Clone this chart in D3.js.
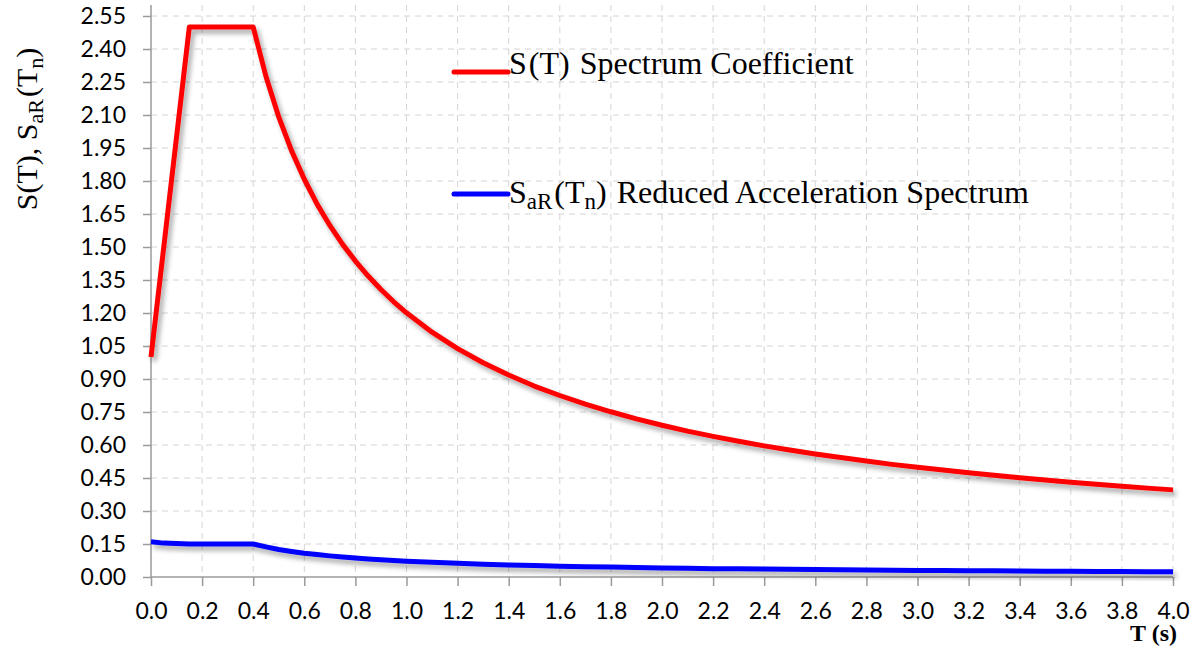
<!DOCTYPE html>
<html>
<head>
<meta charset="utf-8">
<script src="https://cdn.jsdelivr.net/npm/d3@7"></script>
<style>
  html, body { margin: 0; padding: 0; background: #fff; }
  svg { display: block; }
</style>
</head>
<body>
<svg id="chart" width="1195" height="651"></svg>
<script>
// ---- Data ----
const periodT = [0, 0.05, 0.10, 0.15, 0.20, 0.30, 0.40, 0.45, 0.50, 0.55, 0.60, 0.65, 0.70, 0.75, 0.80, 0.85, 0.90, 0.95, 1.00,
  1.1, 1.2, 1.3, 1.4, 1.5, 1.6, 1.7, 1.8, 1.9, 2.0, 2.1, 2.2, 2.3, 2.4, 2.5, 2.6, 2.7, 2.8, 2.9, 3.0,
  3.1, 3.2, 3.3, 3.4, 3.5, 3.6, 3.7, 3.8, 3.9, 4.0];
const spectrumS = [1.00, 1.50, 2.00, 2.50, 2.50, 2.50, 2.50, 2.275, 2.091, 1.938, 1.808, 1.695, 1.598, 1.512, 1.436, 1.368, 1.307, 1.251, 1.201,
  1.113, 1.038, 0.974, 0.918, 0.868, 0.825, 0.786, 0.751, 0.719, 0.690, 0.663, 0.639, 0.617, 0.596, 0.577, 0.559, 0.543, 0.527, 0.512, 0.499,
  0.486, 0.474, 0.462, 0.451, 0.441, 0.431, 0.422, 0.413, 0.404, 0.396];
const reducedSaR = [0.160, 0.154, 0.152, 0.150, 0.150, 0.150, 0.150, 0.137, 0.125, 0.116, 0.108, 0.102, 0.096, 0.091, 0.086, 0.082, 0.078, 0.075, 0.072,
  0.067, 0.062, 0.058, 0.055, 0.052, 0.049, 0.047, 0.045, 0.043, 0.041, 0.040, 0.038, 0.037, 0.036, 0.035, 0.034, 0.033, 0.032, 0.031, 0.030,
  0.029, 0.028, 0.028, 0.027, 0.026, 0.026, 0.025, 0.025, 0.024, 0.024];
const xTicks = [0.0, 0.2, 0.4, 0.6, 0.8, 1.0, 1.2, 1.4, 1.6, 1.8, 2.0, 2.2, 2.4, 2.6, 2.8, 3.0, 3.2, 3.4, 3.6, 3.8, 4.0];
const yTicks = [0.00, 0.15, 0.30, 0.45, 0.60, 0.75, 0.90, 1.05, 1.20, 1.35, 1.50, 1.65, 1.80, 1.95, 2.10, 2.25, 2.40, 2.55];
const seriesNames = ["S(T) Spectrum Coefficient", "Reduced Acceleration Spectrum"];
const seriesColors = ["#ff0000", "#0000ff"];

// ---- Layout ----
const svg = d3.select("#chart");
const x = d3.scaleLinear().domain([0, 4]).range([151, 1173]);
const y = d3.scaleLinear().domain([0, 2.55]).range([577, 16]);
const plotTop = 5;
const tickFont = "Lato, 'Open Sans', sans-serif";
const serif = "'Liberation Serif', 'Times New Roman', serif";

// shadow filter
const defs = svg.append("defs");
const f = defs.append("filter").attr("id", "shadow").attr("x", "-10%").attr("y", "-10%").attr("width", "130%").attr("height", "140%");
f.append("feDropShadow").attr("dx", 3).attr("dy", 4).attr("stdDeviation", 2.5)
  .attr("flood-color", "#000").attr("flood-opacity", 0.35);

// grid
const grid = svg.append("g");
grid.selectAll("line.h").data(yTicks.slice(1)).join("line")
  .attr("x1", x(0)).attr("x2", x(4))
  .attr("y1", d => y(d)).attr("y2", d => y(d))
  .attr("stroke", "#d4d4d4").attr("stroke-width", 1).attr("stroke-dasharray", "6,5");
grid.selectAll("line.v").data(xTicks.slice(1)).join("line")
  .attr("x1", d => x(d)).attr("x2", d => x(d))
  .attr("y1", plotTop).attr("y2", y(0))
  .attr("stroke", "#d4d4d4").attr("stroke-width", 1).attr("stroke-dasharray", "6,5");

// axes
const yAxis = d3.axisLeft(y).tickValues(yTicks).tickFormat(d3.format(".2f")).tickSize(8).tickPadding(17);
const gy = svg.append("g").attr("transform", `translate(${x(0)},0)`).call(yAxis);
gy.select(".domain").remove();
gy.append("line").attr("x1", 0).attr("x2", 0).attr("y1", plotTop).attr("y2", y(0))
  .attr("stroke", "#9a9a9a").attr("stroke-width", 1.5);
gy.selectAll(".tick line").attr("stroke", "#9a9a9a").attr("stroke-width", 1.5);
gy.selectAll(".tick text").attr("font-family", tickFont).attr("font-size", 23).attr("fill", "#000");

const xAxis = d3.axisBottom(x).tickValues(xTicks).tickFormat(d3.format(".1f")).tickSize(9).tickPadding(17);
const gx = svg.append("g").attr("transform", `translate(0,${y(0)})`).call(xAxis);
gx.select(".domain").remove();
gx.append("line").attr("x1", x(0)).attr("x2", x(4)).attr("y1", 0).attr("y2", 0)
  .attr("stroke", "#9a9a9a").attr("stroke-width", 1.5);
gx.selectAll(".tick line").attr("stroke", "#9a9a9a").attr("stroke-width", 1.5);
gx.selectAll(".tick text").attr("font-family", tickFont).attr("font-size", 23).attr("fill", "#000");

// lines
const line = vals => d3.line().x((d, i) => x(periodT[i])).y((d) => y(d))(vals);
svg.append("path").attr("d", line(spectrumS)).attr("fill", "none")
  .attr("stroke", seriesColors[0]).attr("stroke-width", 5).attr("stroke-linejoin", "round")
  .attr("filter", "url(#shadow)");
svg.append("path").attr("d", line(reducedSaR)).attr("fill", "none")
  .attr("stroke", seriesColors[1]).attr("stroke-width", 5).attr("stroke-linejoin", "round")
  .attr("filter", "url(#shadow)");

// legend
svg.append("line").attr("x1", 454).attr("x2", 508).attr("y1", 72).attr("y2", 72)
  .attr("stroke", seriesColors[0]).attr("stroke-width", 5).attr("stroke-linecap", "round");
const t1 = svg.append("text").attr("x", 509).attr("y", 74).attr("font-family", serif).attr("font-size", 32).attr("fill", "#000");
t1.append("tspan").text("S");
t1.append("tspan").attr("dx", 2).text("(T)");
t1.append("tspan").attr("dx", 2).text(seriesNames[0].slice(4));

svg.append("line").attr("x1", 454).attr("x2", 508).attr("y1", 194).attr("y2", 194)
  .attr("stroke", seriesColors[1]).attr("stroke-width", 5).attr("stroke-linecap", "round");
const t2 = svg.append("text").attr("x", 509).attr("y", 203).attr("font-family", serif).attr("font-size", 32).attr("fill", "#000");
t2.append("tspan").text("S");
t2.append("tspan").attr("dy", 6).attr("font-size", 23).text("aR");
t2.append("tspan").attr("dy", -6).attr("dx", 2).text("(T");
t2.append("tspan").attr("dy", 6).attr("font-size", 23).text("n");
t2.append("tspan").attr("dy", -6).text(")");
t2.append("tspan").attr("dx", 2).text(" " + seriesNames[1]);

// y axis title
const yt = svg.append("text").attr("transform", "translate(37,129) rotate(-90)")
  .attr("text-anchor", "middle").attr("font-family", serif).attr("font-size", 30).attr("fill", "#000");
yt.append("tspan").text("S(T), S");
yt.append("tspan").attr("dy", 6).attr("font-size", 22).text("aR");
yt.append("tspan").attr("dy", -6).attr("dx", 2).text("(T");
yt.append("tspan").attr("dy", 6).attr("font-size", 22).text("n");
yt.append("tspan").attr("dy", -6).text(")");

// x axis title
svg.append("text").attr("x", 1177).attr("y", 641).attr("text-anchor", "end")
  .attr("font-family", serif).attr("font-weight", "bold").attr("font-size", 24).attr("fill", "#000")
  .text("T (s)");
</script>
</body>
</html>
